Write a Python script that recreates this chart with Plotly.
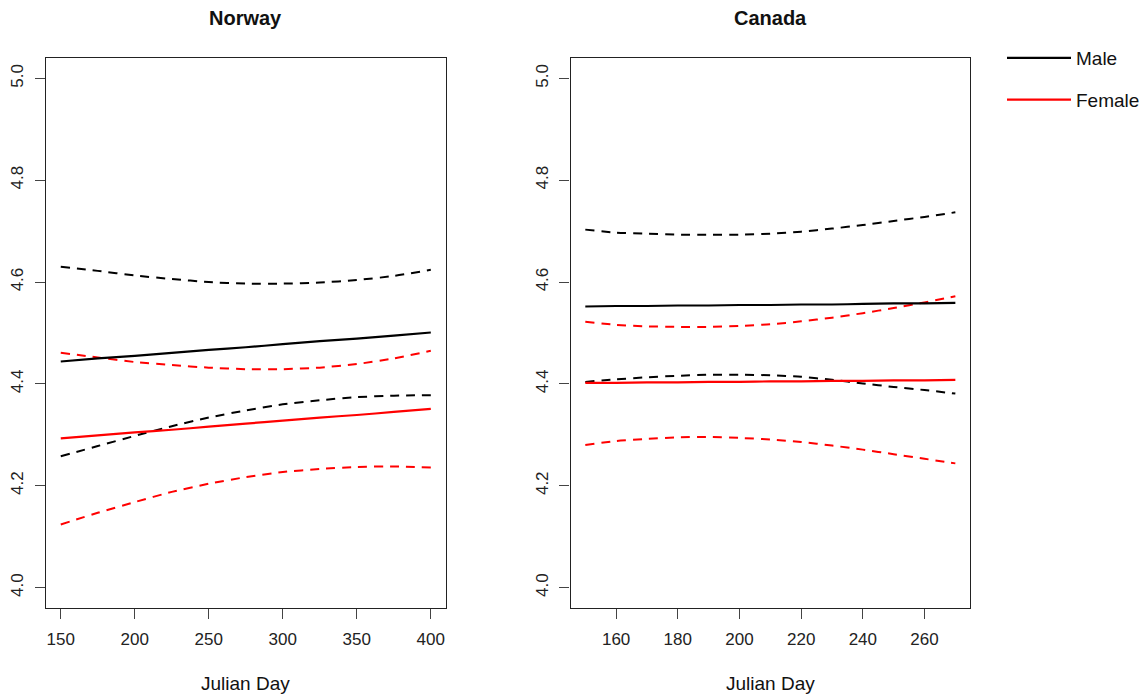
import plotly.graph_objects as go

# ---- Norway: fitted log length vs Julian day, with confidence bands ----
norway_day = [150, 175, 200, 225, 250, 275, 300, 325, 350, 375, 400]
norway_male_fit = [4.444, 4.450, 4.455, 4.461, 4.467, 4.472, 4.478, 4.484, 4.489, 4.495, 4.501]
norway_male_upper = [4.630, 4.622, 4.613, 4.606, 4.600, 4.597, 4.597, 4.599, 4.604, 4.612, 4.624]
norway_male_lower = [4.258, 4.278, 4.298, 4.317, 4.334, 4.348, 4.360, 4.368, 4.374, 4.377, 4.378]
norway_female_fit = [4.293, 4.299, 4.305, 4.310, 4.316, 4.322, 4.328, 4.334, 4.339, 4.345, 4.351]
norway_female_upper = [4.461, 4.452, 4.443, 4.437, 4.432, 4.429, 4.429, 4.432, 4.439, 4.450, 4.465]
norway_female_lower = [4.124, 4.147, 4.168, 4.188, 4.204, 4.217, 4.227, 4.233, 4.237, 4.238, 4.236]

# ---- Canada ----
canada_day = [150, 160, 170, 180, 190, 200, 210, 220, 230, 240, 250, 260, 270]
canada_male_fit = [4.552, 4.553, 4.553, 4.554, 4.554, 4.555, 4.555, 4.556, 4.556, 4.557, 4.558, 4.558, 4.559]
canada_male_upper = [4.703, 4.697, 4.695, 4.693, 4.693, 4.693, 4.695, 4.699, 4.705, 4.712, 4.720, 4.728, 4.737]
canada_male_lower = [4.404, 4.409, 4.413, 4.416, 4.418, 4.418, 4.417, 4.414, 4.408, 4.401, 4.394, 4.388, 4.381]
canada_female_fit = [4.402, 4.402, 4.403, 4.403, 4.404, 4.404, 4.405, 4.405, 4.406, 4.406, 4.407, 4.407, 4.408]
canada_female_upper = [4.522, 4.516, 4.513, 4.512, 4.512, 4.514, 4.517, 4.523, 4.530, 4.539, 4.549, 4.560, 4.572]
canada_female_lower = [4.280, 4.288, 4.292, 4.295, 4.296, 4.294, 4.291, 4.286, 4.279, 4.271, 4.262, 4.253, 4.244]

panel_titles = ["Norway", "Canada"]
x_label = "Julian Day"
norway_xticks = [150, 200, 250, 300, 350, 400]
canada_xticks = [160, 180, 200, 220, 240, 260]
y_ticks = [4.0, 4.2, 4.4, 4.6, 4.8, 5.0]

MALE = "#000000"
FEMALE = "#ff0000"
FONT = "Liberation Sans, Arial, sans-serif"
W, H = 1145, 694

fig = go.Figure()


def add_panel(days, fit_m, up_m, lo_m, fit_f, up_f, lo_f, xa, ya, legend):
    for ys, col, dash, name, width, show in [
        (up_m, MALE, "9px,7px", "Male", 2, False),
        (lo_m, MALE, "9px,7px", "Male", 2, False),
        (up_f, FEMALE, "9px,7px", "Female", 2, False),
        (lo_f, FEMALE, "9px,7px", "Female", 2, False),
        (fit_m, MALE, "solid", "Male", 2.2, legend),
        (fit_f, FEMALE, "solid", "Female", 2.2, legend),
    ]:
        fig.add_trace(go.Scatter(
            x=days, y=ys, mode="lines", name=name, showlegend=show,
            legendgroup=name,
            line=dict(color=col, width=width, dash=dash, shape="spline", smoothing=0.6),
            xaxis=xa, yaxis=ya, hoverinfo="x+y",
        ))


add_panel(norway_day, norway_male_fit, norway_male_upper, norway_male_lower,
          norway_female_fit, norway_female_upper, norway_female_lower, "x", "y", True)
add_panel(canada_day, canada_male_fit, canada_male_upper, canada_male_lower,
          canada_female_fit, canada_female_upper, canada_female_lower, "x2", "y2", False)

# plot-area pixel boxes
box_l = [(46, 446), (571, 971)]
box_top, box_bot = 58, 608
ydom = [(H - box_bot) / H, (H - box_top) / H]

axis_common = dict(
    showline=True, mirror=True, linecolor="#222", linewidth=1.3,
    ticks="outside", ticklen=10, tickwidth=1.2, tickcolor="#444",
    showgrid=False, zeroline=False, ticklabelstandoff=5,
    tickfont=dict(family=FONT, size=17, color="#222"),
)


def xr(lo, hi):
    pad = (hi - lo) * 0.04
    return [lo - pad, hi + pad]


fig.update_layout(
    width=W, height=H,
    margin=dict(l=0, r=0, t=0, b=0),
    paper_bgcolor="white", plot_bgcolor="white",
    font=dict(family=FONT, color="#111"),
    xaxis=dict(domain=[box_l[0][0] / W, box_l[0][1] / W], range=xr(150, 400),
               tickvals=norway_xticks, anchor="y", **axis_common),
    yaxis=dict(domain=ydom, range=xr(4.0, 5.0), tickvals=y_ticks, tickformat=".1f",
               tickangle=-90, anchor="x", **axis_common),
    xaxis2=dict(domain=[box_l[1][0] / W, box_l[1][1] / W], range=xr(150, 270),
                tickvals=canada_xticks, anchor="y2", **axis_common),
    yaxis2=dict(domain=ydom, range=xr(4.0, 5.0), tickvals=y_ticks, tickformat=".1f",
                tickangle=-90, anchor="x2", **axis_common),
    legend=dict(x=1003 / W, y=1 - 39 / H, xanchor="left", yanchor="top",
                font=dict(family=FONT, size=19, color="#111"),
                bgcolor="rgba(0,0,0,0)", tracegroupgap=14, itemwidth=64,
                traceorder="grouped"),
    showlegend=True,
)

for (l, r), title in zip(box_l, panel_titles):
    cx = (l + r) / 2 / W
    fig.add_annotation(text=f"<b>{title}</b>", x=cx, y=1 - 18 / H, xref="paper", yref="paper",
                       showarrow=False, xanchor="center", yanchor="middle",
                       font=dict(family=FONT, size=20, color="#111"))
    fig.add_annotation(text=x_label, x=cx, y=1 - 683 / H, xref="paper", yref="paper",
                       showarrow=False, xanchor="center", yanchor="middle",
                       font=dict(family=FONT, size=19, color="#111"))

fig.write_html("out.html")
